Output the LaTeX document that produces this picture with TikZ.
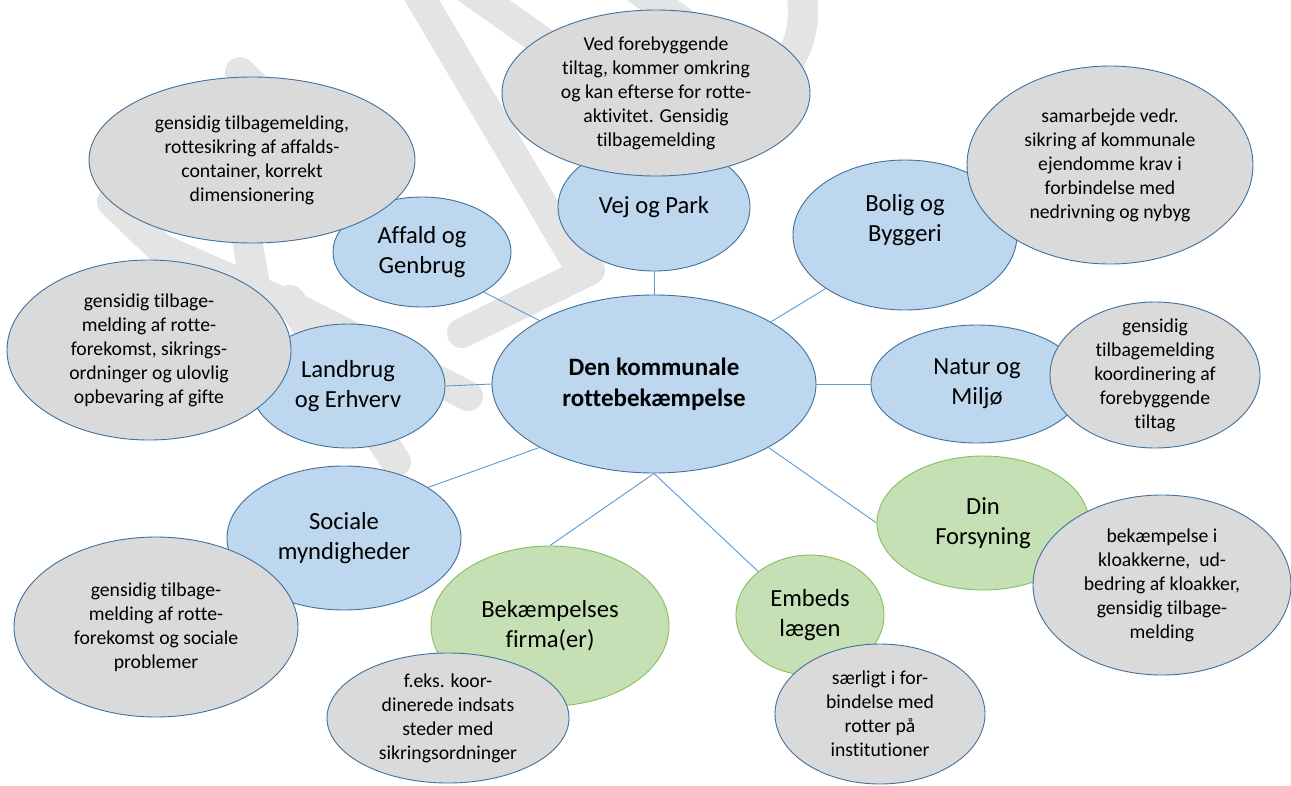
\documentclass[tikz,border=0pt]{standalone}
\usepackage{fontspec}
\setmainfont{Carlito}[Ligatures={NoCommon}]
\usetikzlibrary{shapes.geometric}
\definecolor{bfill}{HTML}{BDD7EE}
\definecolor{bline}{HTML}{41719C}
\definecolor{gfill}{HTML}{C5E0B4}
\definecolor{gline}{HTML}{86C05A}
\definecolor{grfill}{HTML}{DADADA}
\definecolor{conn}{HTML}{5B9BD5}
\definecolor{wm}{HTML}{E4E4E4}
\tikzset{
  bluee/.style={ellipse, draw=bline, fill=bfill, line width=0.9pt, inner sep=0pt},
  greene/.style={ellipse, draw=gline, fill=gfill, line width=0.9pt, inner sep=0pt},
  greye/.style={ellipse, draw=bline, fill=grfill, line width=0.9pt, inner sep=0pt},
  bigtxt/.style={align=center, inner sep=0pt, font=\fontsize{24.6}{30}\selectfont},
  smalltxt/.style={align=center, inner sep=0pt, font=\fontsize{19.7}{24}\selectfont},
  connector/.style={draw=conn, line width=0.9pt},
  wmark/.style={draw=wm, line width=30pt, line cap=round, line join=round}
}
\begin{document}
\begin{tikzpicture}[x=1pt,y=-1pt]
\useasboundingbox (0,0) rectangle (1291,785);
\fill[white] (0,0) rectangle (1291,785);
% watermark
\begin{scope}
\clip (0,0) rectangle (1291,785);
\draw[wmark] (410,-20) -- (580,268);
\draw[wmark] (455,-20) -- (590,75);
\draw[wmark] (625,-20) -- (700,35);
\draw[wmark] (800,-15) .. controls (808,25) and (800,55) .. (770,85);
\draw[wmark] (240,72) -- (310,140);
\draw[wmark] (240,200) -- (255,285);
\draw[wmark] (112,202) -- (160,248) -- (300,310) -- (468,396);
\draw[wmark] (290,300) -- (396,462);
\draw[wmark] (590,270) -- (462,333);
\end{scope}
% main topic nodes
\node[bluee, minimum width=324pt, minimum height=178pt] (center) at (654,384) {};
\node[bluee, minimum width=192pt, minimum height=128pt] (vej) at (654,207) {};
\node[bluee, minimum width=178pt, minimum height=110pt] (affald) at (422,252) {};
\node[bluee, minimum width=194pt, minimum height=124pt] (landbrug) at (348,386) {};
\node[bluee, minimum width=224pt, minimum height=150pt] (bolig) at (905,235) {};
\node[bluee, minimum width=212pt, minimum height=118pt] (natur) at (977,384) {};
\node[bluee, minimum width=234pt, minimum height=144pt] (sociale) at (344,538) {};
\node[greene, minimum width=212pt, minimum height=134pt] (din) at (983,523) {};
\node[greene, minimum width=148pt, minimum height=120pt] (embeds) at (810,615) {};
\node[greene, minimum width=238pt, minimum height=160pt] (bek) at (550,626) {};
% connectors
\draw[connector] (center.151.5) -- (affald.-33);
\draw[connector] (center.north) -- (vej.south);
\draw[connector] (center.28.3) -- (bolig.-146.5);
\draw[connector] (center.west) -- (landbrug.east);
\draw[connector] (center.east) -- (natur.west);
\draw[connector] (center.-151) -- (sociale.31);
\draw[connector] (center.-29) -- (din.west);
\draw[connector] (center.south) -- (bek.north);
\draw[connector] (center.south) -- (embeds.140);
% grey comment ellipses
\node[greye, minimum width=308pt, minimum height=166pt] (vejg) at (656,93) {};
\node[greye, minimum width=326pt, minimum height=166pt] (affaldg) at (252,160) {};
\node[greye, minimum width=284pt, minimum height=180pt] (landbrugg) at (149,350) {};
\node[greye, minimum width=286pt, minimum height=198pt] (boligg) at (1110,165) {};
\node[greye, minimum width=210pt, minimum height=146pt] (naturg) at (1155,375) {};
\node[greye, minimum width=258pt, minimum height=180pt] (ding) at (1162,585) {};
\node[greye, minimum width=210pt, minimum height=140pt] (embedsg) at (880,714) {};
\node[greye, minimum width=242pt, minimum height=130pt] (bekg) at (448,718) {};
\node[greye, minimum width=284pt, minimum height=180pt] (socialeg) at (156,627) {};
% texts
\node[bigtxt, font=\fontsize{25}{31}\selectfont\bfseries] (centert) at (center) {Den kommunale\\rottebekæmpelse};
\node[bigtxt] (vejt) at (vej) {Vej og Park};
\node[bigtxt] (affaldt) at (affald) {Affald og\\Genbrug};
\node[bigtxt] (landbrugt) at (landbrug) {Landbrug\\og Erhverv};
\node[bigtxt] (boligt) at (905,220) {Bolig og\\Byggeri};
\node[bigtxt] (naturt) at (natur) {Natur og\\Miljø};
\node[bigtxt] (socialet) at (sociale) {Sociale\\myndigheder};
\node[bigtxt] (dint) at (din) {Din\\Forsyning};
\node[bigtxt] (embedst) at (embeds) {Embeds\\lægen};
\node[bigtxt] (bekt) at (bek) {Bekæmpelses\\firma(er)};
\node[smalltxt] (vejgt) at (vejg) {Ved forebyggende\\tiltag, kommer omkring\\og kan efterse for rotte-\\aktivitet. Gensidig\\tilbagemelding};
\node[smalltxt] (affaldgt) at (affaldg) {gensidig tilbagemelding,\\rottesikring af affalds-\\container, korrekt\\dimensionering};
\node[smalltxt] (landbruggt) at (landbrugg) {gensidig tilbage-\\melding af rotte-\\forekomst, sikrings-\\ordninger og ulovlig\\opbevaring af gifte};
\node[smalltxt] (boliggt) at (boligg) {samarbejde vedr.\\sikring af kommunale\\ejendomme krav i\\forbindelse med\\nedrivning og nybyg};
\node[smalltxt] (naturgt) at (naturg) {gensidig\\tilbagemelding\\koordinering af\\forebyggende\\tiltag};
\node[smalltxt] (dingt) at (ding) {bekæmpelse i\\kloakkerne,\ \ ud-\\bedring af kloakker,\\gensidig tilbage-\\melding};
\node[smalltxt] (embedsgt) at (embedsg) {særligt i for-\\bindelse med\\rotter på\\institutioner};
\node[smalltxt] (bekgt) at (bekg) {f.eks. koor-\\dinerede indsats\\steder med\\sikringsordninger};
\node[smalltxt] (socialegt) at (socialeg) {gensidig tilbage-\\melding af rotte-\\forekomst og sociale\\problemer};
\end{tikzpicture}
\end{document}
